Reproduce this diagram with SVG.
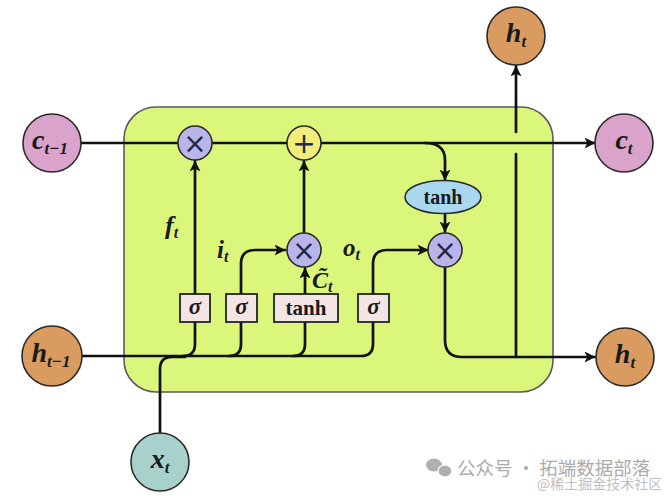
<svg xmlns="http://www.w3.org/2000/svg" width="667" height="496" viewBox="0 0 667 496">
<style>
.ln{fill:none;stroke:#111;stroke-width:2.7;stroke-linecap:round}
.ar{marker-end:url(#arr)}
.nd{stroke:#2a2a2a;stroke-width:1.6}
.pink{fill:#d9a3cb}.orange{fill:#d99b5f}.teal{fill:#a8d1cb}
.op{fill:#b9b4ea;stroke:#2a2a2a;stroke-width:1.6}
.plus{fill:#f2ee7c;stroke:#2a2a2a;stroke-width:1.6}
.gate{fill:#f4e5e5;stroke:#222;stroke-width:1.8}
.lbl{font-family:"Liberation Serif","DejaVu Serif",serif;font-weight:bold;font-style:italic;fill:#1a1a1a}
.fn{font-family:"Liberation Serif","DejaVu Serif",serif;font-weight:bold;fill:#1a1a1a}
.sym{font-family:"DejaVu Sans",sans-serif;fill:#222a44;font-size:28px}
</style>
<defs>
<marker id="arr" viewBox="0 0 10 10" refX="9.5" refY="5" markerWidth="11" markerHeight="11" markerUnits="userSpaceOnUse" orient="auto">
<path d="M0,0 L10,5 L0,10 L2.5,5 z" fill="#111"/>
</marker>
</defs>
<rect width="667" height="496" fill="#ffffff"/>
<g id="cell">
<rect x="124" y="107" width="429" height="285" rx="32" ry="32" fill="#daf77b" stroke="#5a5a5a" stroke-width="1.6"/>
</g>
<g id="connectors">
<path class="ln ar" d="M81,143 H595"/>
<path class="ln ar" d="M425,143 Q445,143 445,160 V180"/>
<path class="ln ar" d="M445,214 V232"/>
<path class="ln ar" d="M445,267 V340 Q445,357 462,357 H595"/>
<path class="ln" d="M516,357 V154"/>
<path class="ln ar" d="M516,132 V66"/>
<path class="ln" d="M82,356 H361 Q373,356 373,344 V322"/>
<path class="ln" d="M183,356 Q195,356 195,344 V322"/>
<path class="ln" d="M229,356 Q241,356 241,344 V322"/>
<path class="ln" d="M293,356 Q305,356 305,344 V322"/>
<path class="ln" d="M160,433 V369 Q160,357 172,357 H185"/>
<path class="ln ar" d="M195,294 V161"/>
<path class="ln ar" d="M241,294 V264 Q241,250 255,250 H285"/>
<path class="ln ar" d="M305,294 V268"/>
<path class="ln ar" d="M304,232 V161"/>
<path class="ln ar" d="M373,294 V264 Q373,250 387,250 H428"/>
</g>
<g id="c_prev"><circle class="nd pink" cx="52" cy="143" r="29"/><text class="lbl" x="50" y="149" text-anchor="middle"><tspan font-size="28">c</tspan><tspan font-size="17" dy="5">t−1</tspan></text></g>
<g id="h_prev"><circle class="nd orange" cx="52" cy="356" r="30"/><text class="lbl" x="51" y="362" text-anchor="middle"><tspan font-size="28">h</tspan><tspan font-size="17" dy="5">t−1</tspan></text></g>
<g id="x_t"><circle class="nd teal" cx="160" cy="462" r="29"/><text class="lbl" x="160" y="468" text-anchor="middle"><tspan font-size="28">x</tspan><tspan font-size="17" dy="5">t</tspan></text></g>
<g id="h_top"><circle class="nd orange" cx="516" cy="36" r="29"/><text class="lbl" x="516" y="42" text-anchor="middle"><tspan font-size="28">h</tspan><tspan font-size="17" dy="5">t</tspan></text></g>
<g id="c_t"><circle class="nd pink" cx="624" cy="143" r="29"/><text class="lbl" x="624" y="149" text-anchor="middle"><tspan font-size="28">c</tspan><tspan font-size="17" dy="5">t</tspan></text></g>
<g id="h_t"><circle class="nd orange" cx="625" cy="357" r="29"/><text class="lbl" x="625" y="363" text-anchor="middle"><tspan font-size="28">h</tspan><tspan font-size="17" dy="5">t</tspan></text></g>
<g id="mul_f"><circle class="op" cx="195" cy="143" r="17"/><text class="sym" x="195" y="153" text-anchor="middle">×</text></g>
<g id="add"><circle class="plus" cx="304" cy="143" r="17"/><text class="sym" x="304" y="153" text-anchor="middle">+</text></g>
<g id="mul_i"><circle class="op" cx="304" cy="250" r="17"/><text class="sym" x="304" y="260" text-anchor="middle">×</text></g>
<g id="mul_o"><circle class="op" cx="445" cy="250" r="17"/><text class="sym" x="445" y="260" text-anchor="middle">×</text></g>
<g id="tanh_c"><ellipse cx="443" cy="197" rx="38" ry="16.5" fill="#a9d8f0" stroke="#2a2a2a" stroke-width="1.6"/><text class="fn" x="443" y="203.5" text-anchor="middle" font-size="20">tanh</text></g>
<g id="gate_f"><rect class="gate" x="180" y="294" width="30" height="28"/><text class="lbl" x="195" y="314" text-anchor="middle" font-size="23">σ</text></g>
<g id="gate_i"><rect class="gate" x="226" y="294" width="31" height="28"/><text class="lbl" x="241.5" y="314" text-anchor="middle" font-size="23">σ</text></g>
<g id="gate_c"><rect class="gate" x="274" y="294" width="64" height="28"/><text class="fn" x="306" y="315" text-anchor="middle" font-size="21">tanh</text></g>
<g id="gate_o"><rect class="gate" x="358" y="294" width="31" height="28"/><text class="lbl" x="373.5" y="314" text-anchor="middle" font-size="23">σ</text></g>
<g id="labels">
<text class="lbl" x="165" y="234"><tspan font-size="26">f</tspan><tspan font-size="16" dy="4">t</tspan></text>
<text class="lbl" x="217" y="258"><tspan font-size="25">i</tspan><tspan font-size="16" dy="4">t</tspan></text>
<text class="lbl" x="343" y="256"><tspan font-size="25">o</tspan><tspan font-size="16" dy="4">t</tspan></text>
<text class="lbl" x="312" y="288"><tspan font-size="24">C̃</tspan><tspan font-size="16" dy="4">t</tspan></text>
</g>
<g id="watermark">
<ellipse cx="434" cy="465" rx="8" ry="6.5" fill="#b0b0b0"/>
<ellipse cx="445" cy="471" rx="7" ry="6" fill="#b0b0b0" stroke="#fff" stroke-width="1.2"/>
<text x="457" y="475" font-family="'Noto Sans CJK SC',sans-serif" font-size="18.5" fill="#ababab">公众号 · 拓端数据部落</text>
<text x="537" y="489" font-family="'Noto Sans CJK SC',serif" font-size="14" fill="#c0c0c0">@稀土掘金技术社区</text>
</g>
</svg>
